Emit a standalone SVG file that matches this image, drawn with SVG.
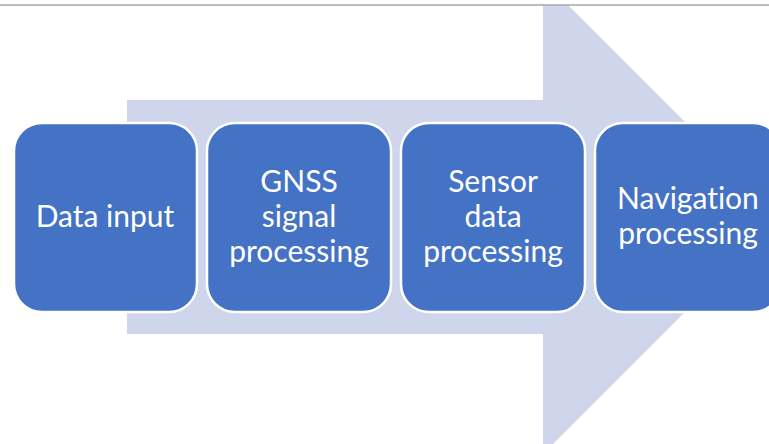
<svg xmlns="http://www.w3.org/2000/svg" width="769" height="444" viewBox="0 0 769 444">
  <style>
    .box { fill: #4472c4; stroke: #ffffff; stroke-width: 2.5; }
    .lbl { fill: #ffffff; font-family: Lato, "Open Sans", "Liberation Sans", sans-serif; font-size: 30px; text-anchor: middle; font-variant-ligatures: none; }
  </style>
  <rect x="0" y="0" width="769" height="444" fill="#ffffff"/>
  <g id="background-arrow">
    <polygon points="127,100 543,100 543,5 568,5 780,217 543,454 543,334 127,334" fill="#cfd5ea"/>
  </g>
  <line x1="0" y1="5" x2="769" y2="5" stroke="#a6a6a6" stroke-width="1.5"/>
  <g id="connectors"></g>
  <g id="node-data-input">
    <rect class="box" x="14" y="123" width="183" height="189" rx="28" ry="28"/>
    <text class="lbl" x="105" y="227">Data input</text>
  </g>
  <g id="node-gnss">
    <rect class="box" x="207" y="123" width="184" height="189" rx="28" ry="28"/>
    <text class="lbl" x="299" y="192">GNSS</text>
    <text class="lbl" x="299" y="227">signal</text>
    <text class="lbl" x="299" y="262">processing</text>
  </g>
  <g id="node-sensor">
    <rect class="box" x="401" y="123" width="184" height="189" rx="28" ry="28"/>
    <text class="lbl" x="493" y="192">Sensor</text>
    <text class="lbl" x="493" y="227">data</text>
    <text class="lbl" x="493" y="262">processing</text>
  </g>
  <g id="node-navigation">
    <rect class="box" x="595" y="123" width="186" height="189" rx="28" ry="28"/>
    <text class="lbl" x="688" y="209">Navigation</text>
    <text class="lbl" x="688" y="244">processing</text>
  </g>
</svg>
